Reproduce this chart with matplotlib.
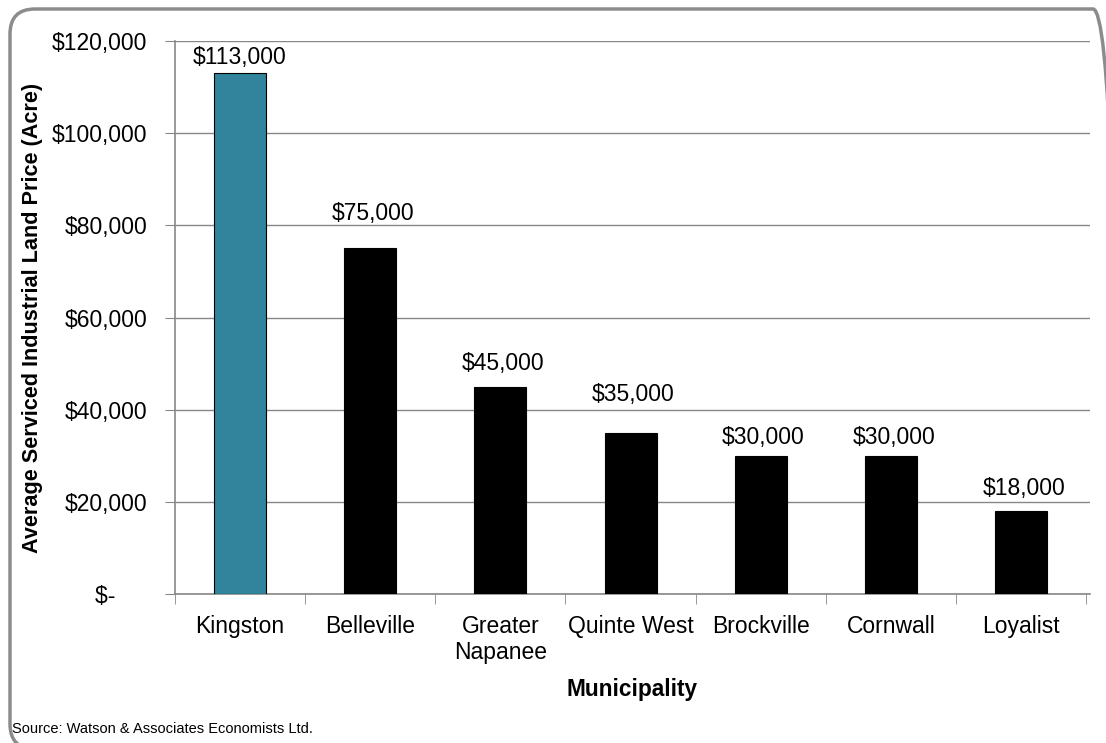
import matplotlib
matplotlib.use("Agg")
from matplotlib import pyplot as plt
from matplotlib.patches import FancyBboxPatch
from matplotlib.ticker import FuncFormatter
import numpy as np

municipalities = ["Kingston", "Belleville", "Greater\nNapanee", "Quinte West",
                  "Brockville", "Cornwall", "Loyalist"]
prices = [113000, 75000, 45000, 35000, 30000, 30000, 18000]
bar_colors = ["#31849B", "black", "black", "black", "black", "black", "black"]
# hand-placed label heights above each bar (points)
label_lift = [11.5, 25, 17, 27.5, 13, 13, 16.5]

plt.rcParams['font.family'] = ['Liberation Sans', 'DejaVu Sans']
grey = "#878787"

fig = plt.figure(figsize=(11.06, 7.43), dpi=100)

# rounded frame around the whole chart (inch units, runs off the right/bottom edge)
frame = FancyBboxPatch((0.10, -0.06), 11.08, 7.40,
                       boxstyle="round,pad=0,rounding_size=0.25",
                       transform=fig.dpi_scale_trans, facecolor="none",
                       edgecolor="#8c8c8c", linewidth=2.5)
fig.patches.append(frame)

ax = fig.add_axes([175 / 1106, 1 - 594 / 743, (1090 - 175) / 1106, (594 - 41) / 743])

x = np.arange(len(municipalities))
bars = ax.bar(x, prices, width=0.4, color=bar_colors, edgecolor="black",
              linewidth=0.8, zorder=3)

for xi, v, lift in zip(x, prices, label_lift):
    ax.annotate(f"${v:,.0f}", (xi, v), xytext=(2 if xi else 0, lift),
                textcoords="offset points", ha="center", va="center",
                fontsize=16.5)

ax.set_ylim(0, 120000)
ax.set_xlim(-0.5, len(municipalities) - 0.5 + 0.03)
ax.set_yticks(np.arange(0, 120001, 20000))


def money(v, pos):
    if v == 0:
        return "$-     "
    return f"${v:,.0f}"


ax.yaxis.set_major_formatter(FuncFormatter(money))
ax.yaxis.grid(True, color=grey, linewidth=1, zorder=0)
ax.tick_params(axis="y", length=7, color=grey, pad=13, labelsize=16.5)

ax.set_xticks(x)
ax.set_xticklabels(municipalities, fontsize=16.5)
ax.set_xticks(np.arange(-0.5, len(municipalities)), minor=True)
ax.tick_params(axis="x", which="major", length=0, pad=15)
ax.tick_params(axis="x", which="minor", length=7, color=grey)

for side in ["top", "right"]:
    ax.spines[side].set_visible(False)
for side in ["left", "bottom"]:
    ax.spines[side].set_color(grey)
    ax.spines[side].set_linewidth(1.2)

ax.set_ylabel("Average Serviced Industrial Land Price (Acre)", fontsize=15.6,
              fontweight="bold", va="center")
ax.yaxis.set_label_coords(-0.156, 0.5)
ax.set_xlabel("Municipality", fontsize=16.3, fontweight="bold", labelpad=10)

fig.text(12 / 1106, 1 - 729 / 743, "Source: Watson & Associates Economists Ltd.",
         fontsize=10.5, va="center", ha="left")

fig.savefig("out.png", dpi=100)
